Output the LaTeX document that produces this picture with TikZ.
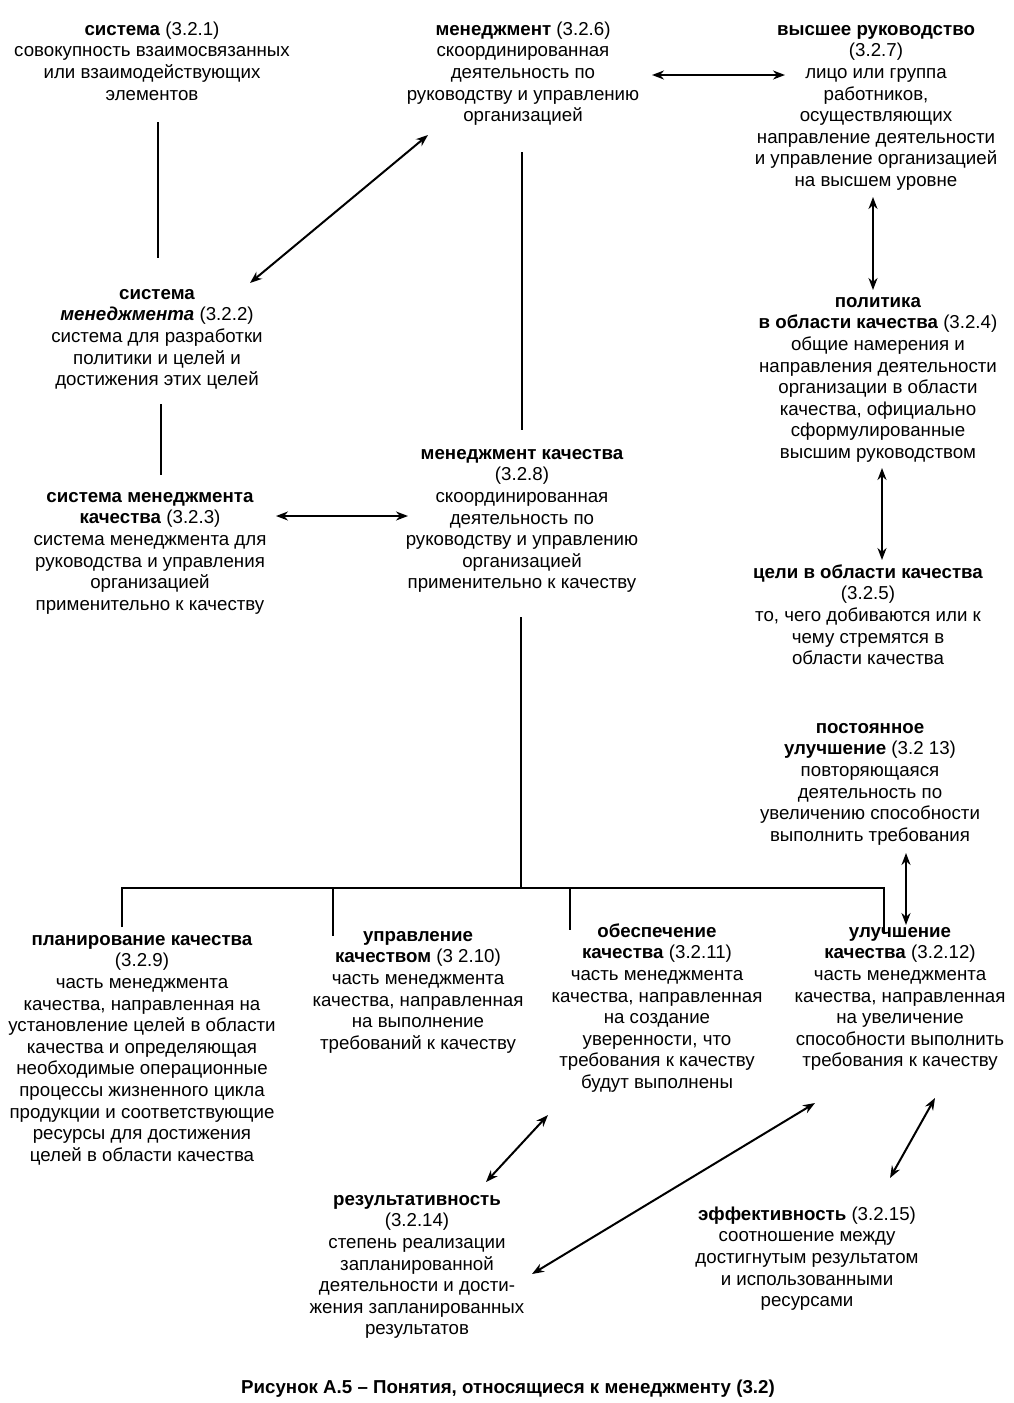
\documentclass[tikz,border=0pt]{standalone}
\usepackage{fontspec}
\setmainfont{Liberation Sans}
\usetikzlibrary{arrows.meta}
\begin{document}
\begin{tikzpicture}[x=1pt,y=-1pt,
  txt/.style={anchor=north,align=center,inner sep=0pt,font=\fontsize{18.7}{21.6}\selectfont},
  ln/.style={line width=2.3pt},
  dbl/.style={line width=2pt,{Stealth[length=12pt,width=9pt]}-{Stealth[length=12pt,width=9pt]}}]
\useasboundingbox (0,0) rectangle (1013,1403);
\fill[white] (0,0) rectangle (1013,1403);

\node[txt] (s1) at (152,20) {\strut\textbf{система} (3.2.1)\\совокупность взаимосвязанных\\или взаимодействующих\\элементов};
\node[txt] (m) at (523,20) {\strut\textbf{менеджмент} (3.2.6)\\скоординированная\\деятельность по\\руководству и управлению\\организацией};
\node[txt] (top) at (876,20) {\strut\textbf{высшее руководство}\\(3.2.7)\\лицо или группа\\работников,\\осуществляющих\\направление деятельности\\и управление организацией\\на высшем уровне};
\node[txt] (s2) at (157,284) {\strut\textbf{система}\\\textbf{\textit{менеджмента}} (3.2.2)\\система для разработки\\политики и целей и\\достижения этих целей};
\node[txt] (smk) at (150,487) {\strut\textbf{система менеджмента}\\\textbf{качества} (3.2.3)\\система менеджмента для\\руководства и управления\\организацией\\применительно к качеству};
\node[txt] (mk) at (522,444) {\strut\textbf{менеджмент качества}\\(3.2.8)\\скоординированная\\деятельность по\\руководству и управлению\\организацией\\применительно к качеству};
\node[txt] (pol) at (878,292) {\strut\textbf{политика}\\\textbf{в области качества} (3.2.4)\\общие намерения и\\направления деятельности\\организации в области\\качества, официально\\сформулированные\\высшим руководством};
\node[txt] (goal) at (868,563) {\strut\textbf{цели в области качества}\\(3.2.5)\\то, чего добиваются или к\\чему стремятся в\\области качества};
\node[txt] (ci) at (870,718) {\strut\textbf{постоянное}\\\textbf{улучшение} (3.2 13)\\повторяющаяся\\деятельность по\\увеличению способности\\выполнить требования};
\node[txt] (plan) at (142,930) {\strut\textbf{планирование качества}\\(3.2.9)\\часть менеджмента\\качества, направленная на\\установление целей в области\\качества и определяющая\\необходимые операционные\\процессы жизненного цикла\\продукции и соответствующие\\ресурсы для достижения\\целей в области качества};
\node[txt] (ctrl) at (418,926) {\strut\textbf{управление}\\\textbf{качеством} (3 2.10)\\часть менеджмента\\качества, направленная\\на выполнение\\требований к качеству};
\node[txt] (qa) at (657,922) {\strut\textbf{обеспечение}\\\textbf{качества} (3.2.11)\\часть менеджмента\\качества, направленная\\на создание\\уверенности, что\\требования к качеству\\будут выполнены};
\node[txt] (imp) at (900,922) {\strut\textbf{улучшение}\\\textbf{качества} (3.2.12)\\часть менеджмента\\качества, направленная\\на увеличение\\способности выполнить\\требования к качеству};
\node[txt] (res) at (417,1190) {\strut\textbf{результативность}\\(3.2.14)\\степень реализации\\запланированной\\деятельности и дости-\\жения запланированных\\результатов};
\node[txt] (eff) at (807,1205) {\strut\textbf{эффективность} (3.2.15)\\соотношение между\\достигнутым результатом\\и использованными\\ресурсами};
\node[txt] (cap) at (508,1378) {\strut\textbf{Рисунок А.5 – Понятия, относящиеся к менеджменту (3.2)}};

% connector end points
\coordinate (s1b) at (158,122);  \coordinate (s2t) at (158,258);
\coordinate (s2a) at (250,283);  \coordinate (ma) at (428,135);
\coordinate (mr) at (652,75);    \coordinate (topl) at (785,75);
\coordinate (topb) at (873,197); \coordinate (polt) at (873,290);
\coordinate (mb) at (522,152);   \coordinate (mkt) at (522,430);
\coordinate (s2b) at (161,404);  \coordinate (smkt) at (161,475);
\coordinate (smkr) at (276,516); \coordinate (mkl) at (408,516);
\coordinate (polb) at (882,468); \coordinate (goalt) at (882,560);
\coordinate (mkb) at (521,617);  \coordinate (bus) at (521,888);
\coordinate (busl) at (122,888); \coordinate (busr) at (884,888);
\coordinate (plant) at (122,927);
\coordinate (ctrlt) at (333,936); \coordinate (ctrlbus) at (333,888);
\coordinate (qat) at (570,930);  \coordinate (qabus) at (570,888);
\coordinate (impt) at (884,934);
\coordinate (cib) at (906,853);  \coordinate (impci) at (906,925);
\coordinate (qab) at (548,1115); \coordinate (rest) at (486,1182);
\coordinate (impb) at (815,1103); \coordinate (resr) at (532,1274);
\coordinate (impb2) at (935,1098); \coordinate (efft) at (890,1178);

\draw[ln] (s1b) -- (s2t);
\draw[dbl] (s2a) -- (ma);
\draw[dbl] (mr) -- (topl);
\draw[dbl] (topb) -- (polt);
\draw[ln] (mb) -- (mkt);
\draw[ln] (s2b) -- (smkt);
\draw[dbl] (smkr) -- (mkl);
\draw[dbl] (polb) -- (goalt);
\draw[ln] (mkb) -- (bus);
\draw[ln] (plant) -- (busl) -- (busr) -- (impt);
\draw[ln] (ctrlbus) -- (ctrlt);
\draw[ln] (qabus) -- (qat);
\draw[dbl] (cib) -- (impci);
\draw[dbl] (qab) -- (rest);
\draw[dbl] (impb) -- (resr);
\draw[dbl] (impb2) -- (efft);
\end{tikzpicture}
\end{document}
